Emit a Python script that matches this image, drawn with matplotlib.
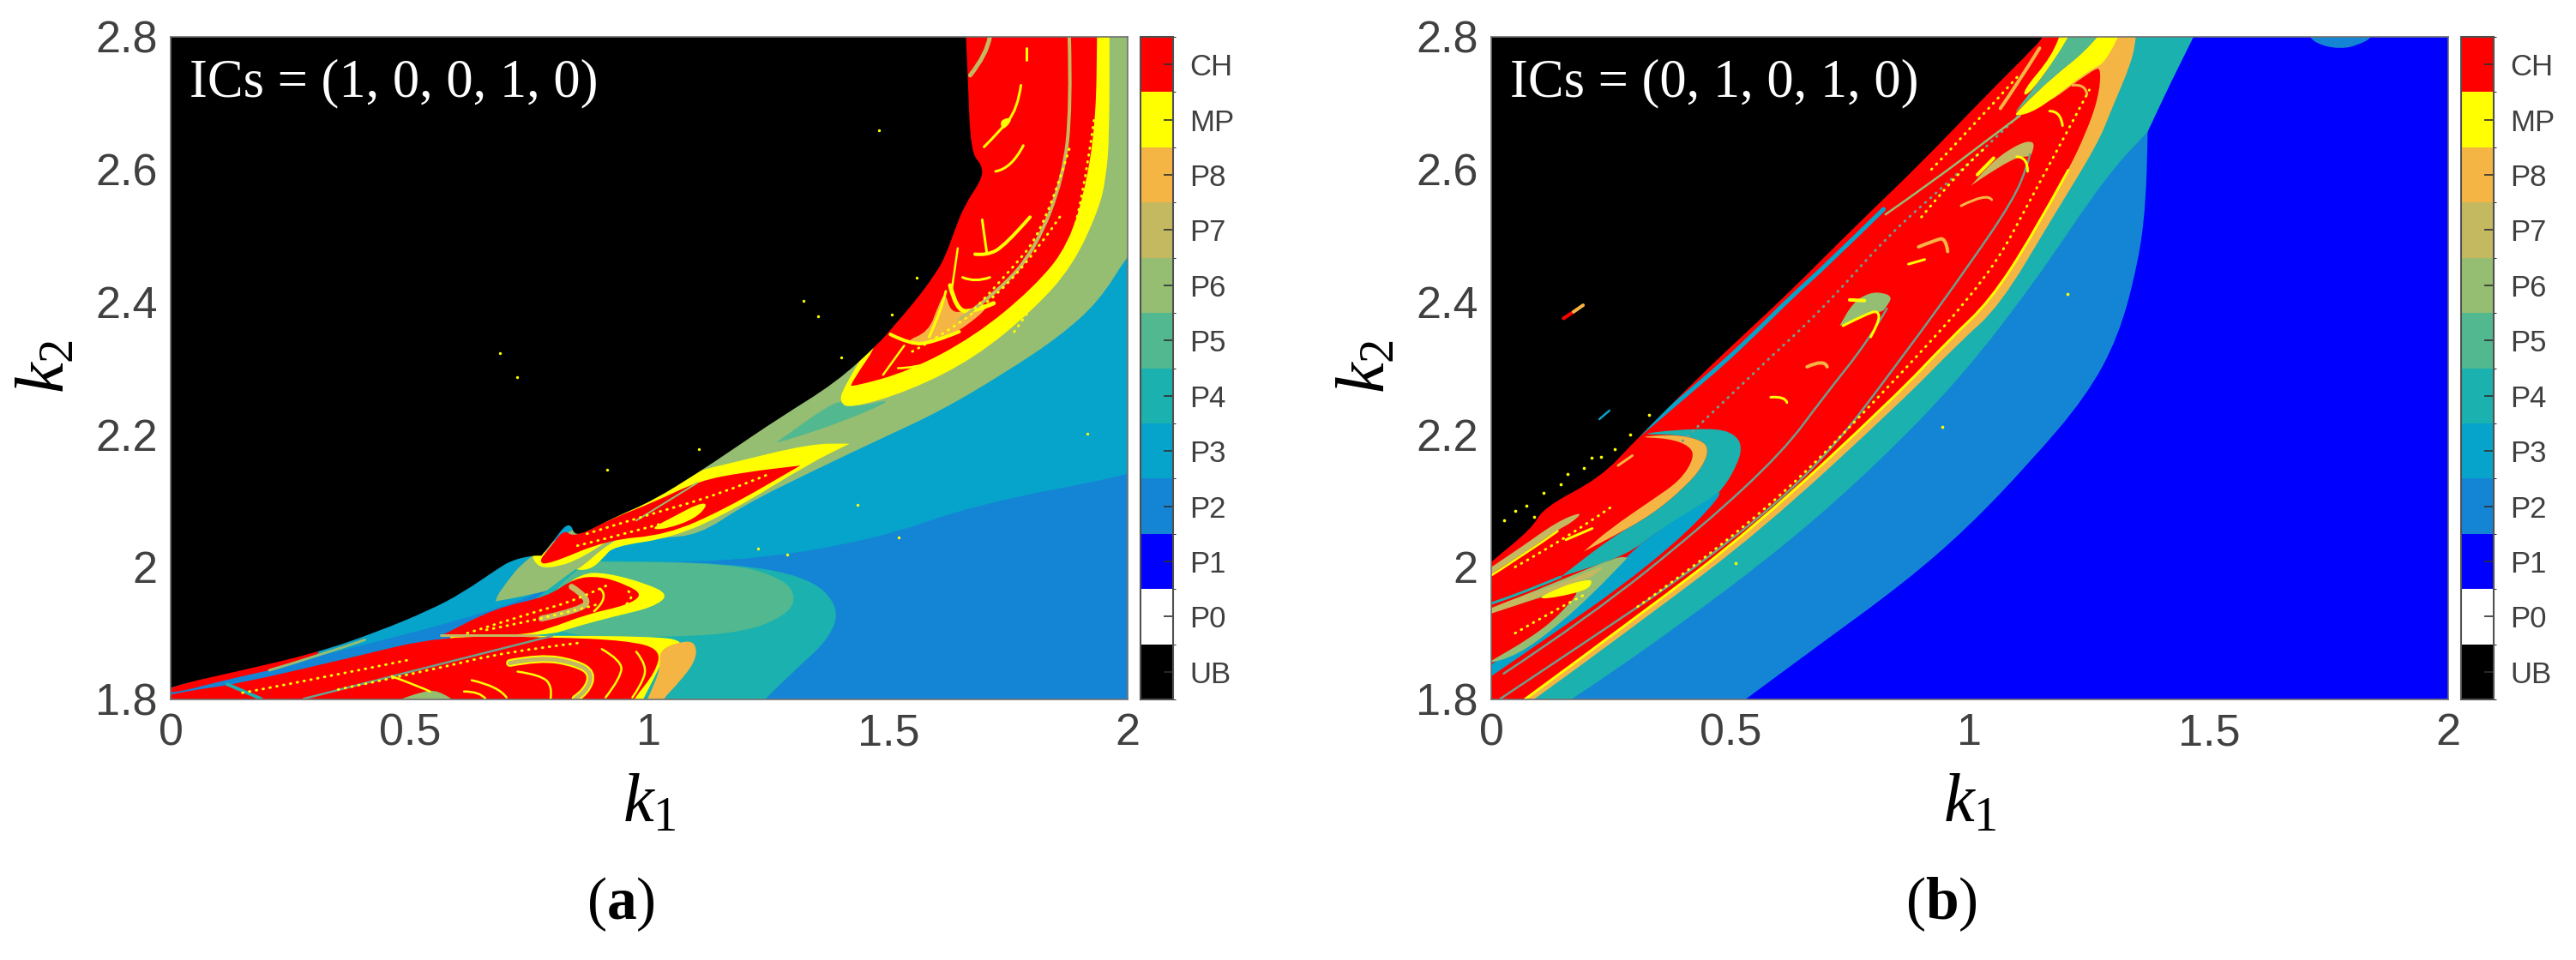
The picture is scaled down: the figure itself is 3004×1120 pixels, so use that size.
import matplotlib
matplotlib.use('Agg')
from matplotlib import pyplot as plt
from matplotlib.cm import ScalarMappable
from matplotlib.colors import BoundaryNorm, ListedColormap
from matplotlib.patches import PathPatch
from matplotlib.path import Path

plt.rcParams['font.family'] = ['Liberation Sans', 'DejaVu Sans']
plt.rcParams['mathtext.fontset'] = 'custom'
plt.rcParams['mathtext.rm'] = 'Liberation Serif'
plt.rcParams['mathtext.it'] = 'Liberation Serif:italic'
plt.rcParams['mathtext.bf'] = 'Liberation Serif:bold'

state_labels = ['UB', 'P0', 'P1', 'P2', 'P3', 'P4', 'P5', 'P6', 'P7', 'P8', 'MP', 'CH']
state_colors = ['#000000', '#ffffff', '#0000ff', '#1485d4', '#06a3cb', '#1ab1af',
                '#52b88f', '#95be72', '#c4b860', '#f5b544', '#ffff00', '#ff0000']
c = dict(zip(state_labels, state_colors))
TRACE = '#6f9f8c'

k1_ticks = [0, 0.5, 1, 1.5, 2]
k1_ticklabels = ['0', '0.5', '1', '1.5', '2']
k2_ticks = [1.8, 2, 2.2, 2.4, 2.6, 2.8]
k2_ticklabels = ['1.8', '2', '2.2', '2.4', '2.6', '2.8']

# region outlines, as (k1, k2). A doubled point keeps a sharp corner
a_p3 = [(2.05, 2.155), (2.05, 2.155), (2, 2.138), (1.68, 2.094), (1.474, 2.041), (1.172, 2.006),
        (.871, 2.010), (.843, 1.985), (.651, 1.925), (0, 1.812), (-.05, 1.80), (-.05, 1.80),
        (-.05, 2.82), (-.05, 2.82), (2.05, 2.82), (2.05, 2.82)]
a_p6 = [(2.05, 2.82), (2.05, 2.82), (2.05, 2.515), (2.05, 2.515), (2, 2.470), (1.940, 2.401),
        (1.858, 2.348), (1.748, 2.295), (1.611, 2.236), (1.474, 2.190), (1.337, 2.143), (1.200, 2.094),
        (1.104, 2.048), (1.021, 2.044), (.925, 2.031), (.898, 2.011), (.857, 1.982), (.816, 1.969),
        (.733, 1.955), (.679, 1.948), (.679, 1.948), (.685, 1.961), (.747, 2.018), (.925, 2.090),
        (1.337, 2.289), (1.662, 2.80), (1.66, 2.82), (1.66, 2.82)]
a_p4 = [(.871, 2.010), (.871, 2.010), (1.172, 2.006), (1.337, 1.984), (1.398, 1.939), (1.378, 1.893),
        (1.309, 1.847), (1.241, 1.800), (1.227, 1.787), (1.227, 1.787), (.651, 1.787), (.651, 1.787),
        (.651, 1.892)]
a_p5 = [(.871, 2.008), (.871, 2.008), (1.172, 2.006), (1.282, 1.982), (1.309, 1.952), (1.282, 1.925),
        (1.200, 1.902), (1.063, 1.894), (.788, 1.894), (.788, 1.958)]
a_yellow_upper = [(.857, 1.991), (.912, 1.991), (.994, 1.975), (1.042, 1.958), (1.008, 1.939),
                  (.925, 1.925), (.843, 1.909), (.788, 1.896), (.583, 1.896), (.788, 1.951)]
a_red_upper = [(.843, 1.983), (.898, 1.986), (.953, 1.973), (.987, 1.958), (.953, 1.942), (.871, 1.929),
               (.788, 1.906), (.733, 1.897), (.565, 1.896), (.565, 1.896), (.679, 1.938), (.788, 1.955)]
a_yellow_lower = [(.583, 1.896), (.583, 1.896), (1.021, 1.896), (1.076, 1.886), (1.035, 1.873),
                  (1.021, 1.847), (.987, 1.800), (.980, 1.787), (.980, 1.787), (.651, 1.787), (.651, 1.787)]
a_p8_lower = [(1.021, 1.876), (1.076, 1.889), (1.098, 1.884), (1.098, 1.859), (1.063, 1.826),
              (1.028, 1.800), (1.021, 1.787), (1.021, 1.787), (.987, 1.787), (.987, 1.787),
              (1.001, 1.807), (1.024, 1.847)]
a_red_lower = [(-.02, 1.804), (-.02, 1.804), (.045, 1.814), (.137, 1.823), (.377, 1.863), (.565, 1.896),
               (.798, 1.894), (.953, 1.889), (1.024, 1.876), (1.014, 1.842), (.967, 1.800), (.960, 1.787),
               (.960, 1.787), (-.02, 1.787), (-.02, 1.787)]
a_red_sliver = [(-.02, 1.815), (.144, 1.846), (.310, 1.875), (.310, 1.868), (.245, 1.850), (.206, 1.844),
                (.118, 1.830), (0, 1.808)]
a_p6_bottom = [(.46, 1.795), (.46, 1.795), (.53, 1.813), (.56, 1.813), (.60, 1.795), (.60, 1.795)]
a_yellow_mid = [(.751, 2.018), (.775, 1.995), (.843, 2.008), (.843, 1.995), (.878, 1.996), (.905, 2.014),
                (.925, 2.031), (1.049, 2.044), (1.172, 2.084), (1.337, 2.157), (1.419, 2.186),
                (1.419, 2.186), (1.337, 2.186), (1.172, 2.157), (1.090, 2.143), (1.008, 2.107),
                (.912, 2.071), (.843, 2.048), (.775, 2.018)]
a_p6_stripe = [(.775, 1.994), (.843, 2.007), (.925, 2.044), (1.008, 2.084), (1.021, 2.077), (.912, 2.034),
               (.860, 2.000), (.843, 1.995)]
a_red_mid = [(.768, 2.008), (.788, 2.003), (.912, 2.041), (1.035, 2.048), (1.158, 2.087), (1.316, 2.153),
             (1.316, 2.153), (1.200, 2.143), (1.104, 2.130), (1.008, 2.097), (.925, 2.074), (.843, 2.044),
             (.822, 2.057), (.795, 2.031)]
a_yellow_oval = [(1.001, 2.057), (1.049, 2.075), (1.104, 2.096), (1.124, 2.095), (1.097, 2.073), (1.035, 2.057)]
a_yellow_top = [(1.474, 2.352), (1.405, 2.269), (1.398, 2.249), (1.419, 2.239), (1.542, 2.265), (1.680, 2.315),
                (1.803, 2.388), (1.885, 2.454), (1.940, 2.540), (1.955, 2.588), (1.962, 2.652), (1.962, 2.80),
                (1.962, 2.82), (1.962, 2.82), (1.5, 2.82), (1.5, 2.82)]
a_red_top = [(1.50, 2.36), (1.419, 2.275), (1.426, 2.272), (1.542, 2.295), (1.680, 2.348), (1.803, 2.421),
             (1.878, 2.487), (1.917, 2.588), (1.934, 2.685), (1.936, 2.80), (1.936, 2.82), (1.936, 2.82),
             (1.5, 2.82), (1.5, 2.82)]
a_p5_wedge = [(1.266, 2.188), (1.266, 2.188), (1.398, 2.256), (1.419, 2.239), (1.522, 2.256), (1.405, 2.219),
              (1.282, 2.190)]
a_p8_wedge = [(1.619, 2.416), (1.629, 2.386), (1.655, 2.384), (1.720, 2.398), (1.648, 2.355), (1.585, 2.336),
              (1.533, 2.340), (1.584, 2.355), (1.604, 2.394)]
a_yellow_blob = [(1.732, 2.675), (1.763, 2.679), (1.739, 2.657)]
a_black = [(0, 1.820), (.144, 1.843), (.308, 1.871), (.432, 1.902), (.542, 1.935), (.610, 1.961), (.685, 1.998),
           (.713, 2.010), (.754, 2.017), (.775, 2.017), (.775, 2.017), (.802, 2.041), (.822, 2.061), (.837, 2.064),
           (.843, 2.049), (.864, 2.051), (.925, 2.074), (1.008, 2.100), (1.104, 2.143), (1.172, 2.176),
           (1.268, 2.223), (1.392, 2.279), (1.481, 2.338), (1.508, 2.361), (1.556, 2.401), (1.597, 2.441),
           (1.618, 2.467), (1.638, 2.507), (1.659, 2.546), (1.696, 2.586), (1.696, 2.606), (1.672, 2.626),
           (1.666, 2.738), (1.662, 2.80), (1.662, 2.82), (1.662, 2.82), (-.05, 2.82), (-.05, 2.82), (-.05, 1.80),
           (-.05, 1.80)]

# thin features of panel (a): (points, colour, width in px, dotted)
a_strokes = [
    ([(.118, 1.823), (.189, 1.801)], c['P4'], 4, False),
    ([(.206, 1.844), (.31, 1.866), (.406, 1.890)], c['P6'], 3, False),
    ([(.278, 1.801), (.462, 1.835), (.798, 1.896)], TRACE, 2.5, False),
    ([(.565, 1.897), (.765, 1.897)], c['P7'], 3, False),
    ([(.462, 1.835), (.525, 1.818), (.542, 1.812)], c['MP'], 2.5, False),
    ([(.838, 1.970), (.877, 1.952), (.857, 1.935), (.775, 1.922)], c['P7'], 7, False),
    ([(.709, 1.855), (.773, 1.864), (.846, 1.855), (.882, 1.840), (.869, 1.812), (.846, 1.801)], c['MP'], 9, False),
    ([(.709, 1.855), (.773, 1.864), (.846, 1.855), (.882, 1.840), (.869, 1.812), (.846, 1.801)], c['P7'], 5, False),
    ([(.725, 1.842), (.773, 1.837), (.798, 1.820), (.794, 1.801)], c['MP'], 2.5, False),
    ([(.629, 1.829), (.685, 1.820), (.702, 1.803)], c['MP'], 2.5, False),
    ([(.613, 1.812), (.646, 1.812), (.658, 1.801)], c['MP'], 2.5, False),
    ([(.901, 1.876), (.942, 1.859), (.942, 1.834), (.909, 1.803)], c['MP'], 2.5, False),
    ([(.973, 1.872), (.997, 1.851), (.982, 1.820), (.965, 1.803)], c['MP'], 2.5, False),
    ([(.898, 1.967), (.917, 1.954), (.885, 1.933)], c['MP'], 2.5, False),
    ([(.957, 1.963), (.973, 1.954), (.942, 1.937)], c['MP'], 3, True),
    ([(.973, 2.070), (1.101, 2.127)], c['P6'], 2, False),
    ([(1.504, 2.351), (1.546, 2.336), (1.590, 2.338), (1.648, 2.355)], c['MP'], 4, False),
    ([(1.585, 2.347), (1.610, 2.386), (1.620, 2.416)], c['MP'], 3, False),
    ([(1.629, 2.425), (1.642, 2.386), (1.681, 2.386), (1.720, 2.398)], c['MP'], 5, False),
    ([(1.878, 2.80), (1.882, 2.696), (1.866, 2.588), (1.808, 2.481), (1.732, 2.416), (1.648, 2.373)], c['P7'], 4, False),
    ([(1.712, 2.80), (1.706, 2.774), (1.671, 2.742)], c['P7'], 5, False),
    ([(1.777, 2.727), (1.770, 2.691), (1.732, 2.657), (1.700, 2.634)], c['MP'], 3, False),
    ([(1.681, 2.472), (1.706, 2.470), (1.744, 2.485), (1.796, 2.528)], c['MP'], 4, False),
    ([(1.696, 2.524), (1.706, 2.472)], c['MP'], 3, False),
    ([(1.724, 2.597), (1.757, 2.601), (1.782, 2.636)], c['MP'], 3, False),
    ([(1.655, 2.437), (1.681, 2.429), (1.712, 2.437)], c['MP'], 3, False),
    ([(1.645, 2.481), (1.633, 2.421)], c['MP'], 2.5, False),
    ([(1.489, 2.290), (1.533, 2.334)], c['MP'], 2.5, False),
    ([(1.520, 2.300), (1.585, 2.300), (1.681, 2.338)], c['MP'], 2.5, False),
    ([(1.681, 2.390), (1.744, 2.438), (1.828, 2.511), (1.878, 2.631)], c['MP'], 3, True),
    ([(1.763, 2.355), (1.866, 2.459), (1.904, 2.545), (1.930, 2.675)], c['MP'], 3, True),
    ([(1.788, 2.783), (1.788, 2.765)], c['MP'], 3, False),
    ([(.62, 1.90), (.75, 1.93), (.85, 1.95), (.92, 1.975)], c['MP'], 3, True),
    ([(.66, 1.905), (.80, 1.925), (.90, 1.945)], c['MP'], 3, True),
    ([(.85, 2.032), (.95, 2.05), (1.05, 2.07)], c['MP'], 3, True),
    ([(.87, 2.05), (.98, 2.075), (1.15, 2.11), (1.25, 2.14)], c['MP'], 3, True),
    ([(.15, 1.81), (.30, 1.83), (.50, 1.86)], c['MP'], 3, True),
    ([(.35, 1.815), (.55, 1.845), (.70, 1.872), (.85, 1.885)], c['MP'], 3, True),
    ([(1.55, 2.325), (1.65, 2.365), (1.78, 2.445), (1.86, 2.53)], c['MP'], 3, True),
]
a_specks_k1 = [1.402, 1.323, 1.353, .688, .724, 1.481, 1.915, 1.435, 1.522, 1.227, 1.289, .912, 1.104, 1.56, 1.508]
a_specks_k2 = [2.316, 2.402, 2.378, 2.323, 2.287, 2.659, 2.201, 2.094, 2.044, 2.028, 2.018, 2.147, 2.178, 2.437, 2.381]

# region outlines
b_p2 = [(1.372, 2.657), (1.372, 2.657), (1.368, 2.546), (1.352, 2.459), (1.311, 2.347), (1.242, 2.256), (1.126, 2.158),
        (.994, 2.058), (.861, 1.975), (.683, 1.881), (.531, 1.800), (.507, 1.787), (.507, 1.787), (-.05, 1.787),
        (-.05, 1.787), (-.05, 2.82), (-.05, 2.82), (1.372, 2.82), (1.372, 2.82)]
b_p2_top = [(1.707, 2.80), (1.734, 2.787), (1.775, 2.782), (1.81, 2.787), (1.844, 2.80), (1.844, 2.82), (1.844, 2.82),
            (1.707, 2.82), (1.707, 2.82)]
b_p4 = [(1.468, 2.80), (1.42, 2.731), (1.372, 2.657), (1.372, 2.657), (1.283, 2.588), (1.139, 2.433), (.982, 2.286),
        (.810, 2.158), (.622, 2.037), (.384, 1.907), (.169, 1.800), (.137, 1.787), (.137, 1.787), (-.05, 1.787),
        (-.05, 1.787), (-.05, 2.82), (-.05, 2.82), (1.48, 2.82), (1.48, 2.82)]
b_p8 = [(1.348, 2.80), (1.338, 2.761), (1.297, 2.692), (1.268, 2.639), (1.172, 2.526), (1.063, 2.394), (.977, 2.338),
        (.861, 2.252), (.563, 2.054), (.324, 1.924), (.090, 1.800), (.062, 1.787), (.062, 1.787), (-.05, 1.787),
        (-.05, 1.787), (-.05, 2.82), (-.05, 2.82), (1.348, 2.82), (1.348, 2.82)]
b_red = [(.070, 1.800), (.306, 1.925), (.548, 2.058), (.843, 2.256), (.960, 2.345), (1.042, 2.401), (1.131, 2.500),
         (1.206, 2.599), (1.241, 2.652), (1.268, 2.705), (1.275, 2.751), (1.261, 2.753), (1.131, 2.682), (1.172, 2.771),
         (1.197, 2.80), (1.197, 2.82), (1.197, 2.82), (-.05, 2.82), (-.05, 2.82), (-.05, 1.787), (-.05, 1.787),
         (.05, 1.787), (.05, 1.787)]
b_yellow_wedge = [(1.29, 2.82), (1.29, 2.82), (1.324, 2.82), (1.324, 2.82), (1.283, 2.761), (1.256, 2.752), (1.208, 2.727),
                  (1.139, 2.688), (1.091, 2.679), (1.105, 2.692), (1.174, 2.739), (1.242, 2.778)]
b_p5_wedge = [(1.222, 2.82), (1.222, 2.82), (1.29, 2.82), (1.29, 2.82), (1.242, 2.778), (1.174, 2.739), (1.105, 2.692),
              (1.091, 2.683), (1.119, 2.709), (1.174, 2.761)]
b_yellow_thin = [(1.197, 2.82), (1.197, 2.82), (1.222, 2.82), (1.222, 2.82), (1.174, 2.761), (1.119, 2.709), (1.11, 2.718),
                 (1.172, 2.771)]
b_p4_lobe = [(.306, 2.200), (.384, 2.207), (.473, 2.209), (.509, 2.200), (.524, 2.183), (.516, 2.157), (.485, 2.118),
             (.443, 2.090), (.354, 2.058), (.283, 2.017), (.145, 1.985), (.145, 1.985), (.252, 2.045), (.336, 2.079),
             (.407, 2.122), (.443, 2.153), (.455, 2.179), (.437, 2.192), (.384, 2.200)]
b_p3_lobe = [(.485, 2.118), (.462, 2.092), (.384, 2.036), (.265, 1.967), (.145, 1.907), (-.02, 1.825), (-.02, 1.825),
             (-.02, 1.842), (-.02, 1.842), (.145, 1.929), (.217, 1.963), (.283, 2.017), (.354, 2.058), (.443, 2.096)]
b_p6_wedge = [(.285, 2.014), (.285, 2.014), (.265, 2.016), (.145, 1.980), (.05, 1.952), (-.02, 1.932), (-.02, 1.932),
              (-.02, 1.852), (-.02, 1.852), (.055, 1.866), (.145, 1.915), (.217, 1.963)]
b_red_lobe = [(.196, 1.974), (.145, 1.929), (.085, 1.894), (-.02, 1.85), (-.02, 1.85), (-.02, 1.925), (-.02, 1.925), (.085, 1.950)]
b_p7_lobe = [(.247, 2.006), (.145, 1.975), (.055, 1.954), (-.02, 1.932), (-.02, 1.932), (-.02, 1.925), (-.02, 1.925),
             (.085, 1.950), (.169, 1.975), (.205, 1.982)]
b_yellow_lobe = [(.214, 1.980), (.199, 1.963), (.085, 1.948), (.145, 1.970), (.193, 1.980)]
b_p8_crescent = [(.300, 2.196), (.384, 2.200), (.437, 2.192), (.455, 2.179), (.443, 2.153), (.407, 2.122), (.336, 2.079),
                 (.252, 2.045), (.193, 2.023), (.193, 2.023), (.247, 2.057), (.336, 2.101), (.396, 2.131), (.425, 2.166),
                 (.414, 2.183), (.371, 2.194)]
b_p7_upper = [(.193, 2.084), (.139, 2.069), (.067, 2.032), (-.02, 1.99), (-.02, 1.99), (-.02, 1.98), (-.02, 1.98),
              (.073, 2.023), (.139, 2.056), (.169, 2.067)]
b_p6_wedge1 = [(.838, 2.407), (.820, 2.414), (.790, 2.414), (.756, 2.399), (.728, 2.364), (.728, 2.364), (.762, 2.373),
               (.793, 2.386), (.817, 2.384), (.827, 2.394)]
b_p7_wedge2 = [(1.135, 2.643), (1.105, 2.640), (1.050, 2.614), (1.002, 2.575), (1.002, 2.575), (1.036, 2.592),
               (1.098, 2.619), (1.126, 2.619), (1.132, 2.627)]
b_black = [(0, 2.008), (.085, 2.058), (.110, 2.090), (.229, 2.135), (.300, 2.190), (.443, 2.293), (.533, 2.354),
           (.625, 2.416), (.762, 2.515), (.899, 2.610), (1.036, 2.713), (1.139, 2.787), (1.153, 2.80),
           (1.167, 2.82), (1.167, 2.82), (-.05, 2.82), (-.05, 2.82), (-.05, 1.975), (-.05, 1.975)]

b_strokes = [
    ([(.070, 1.800), (.306, 1.925), (.548, 2.058), (.843, 2.256), (.960, 2.345), (1.042, 2.401), (1.131, 2.500), (1.206, 2.599)], c['MP'], 3, False),
    ([(.26, 2.17), (.45, 2.285), (.54, 2.345), (.63, 2.41), (.70, 2.455), (.82, 2.54)], c['P3'], 5, False),
    ([(1.146, 2.783), (1.098, 2.727), (1.064, 2.692)], c['P8'], 4, False),
    ([(-.02, 1.94), (.05, 1.956), (.145, 1.985)], c['P4'], 3, False),
    ([(-.02, 1.978), (.073, 2.02), (.139, 2.054)], c['MP'], 2.5, False),
    ([(.026, 1.839), (.204, 1.924), (.443, 2.062), (.610, 2.174), (.694, 2.256), (.790, 2.343), (.827, 2.390)], TRACE, 2.5, False),
    ([(.019, 1.801), (.204, 1.890), (.443, 2.006), (.683, 2.149), (.865, 2.322), (1.002, 2.459), (1.091, 2.554), (1.121, 2.606), (1.126, 2.623)], TRACE, 2.5, False),
    ([(.40, 2.19), (.557, 2.299), (.694, 2.390), (.831, 2.502), (.968, 2.588), (1.105, 2.683)], TRACE, 3, True),
    ([(.824, 2.532), (.927, 2.584), (1.036, 2.644), (1.105, 2.681)], c['P6'], 2.5, False),
    ([(.899, 2.528), (.982, 2.601), (1.03, 2.631)], c['MP'], 3, True),
    ([(.306, 1.94), (.548, 2.063), (.843, 2.28), (1.042, 2.44), (1.131, 2.56), (1.206, 2.66), (1.25, 2.72)], c['MP'], 3, True),
    ([(.05, 1.90), (.12, 1.93), (.20, 1.96)], c['MP'], 3, True),
    ([(.05, 2.0), (.15, 2.04), (.25, 2.09)], c['MP'], 3, True),
    ([(.92, 2.60), (1.0, 2.66), (1.10, 2.74)], c['MP'], 3, True),
    ([(.749, 2.403), (.78, 2.402)], c['MP'], 4, False),
    ([(.735, 2.364), (.790, 2.384), (.810, 2.386), (.810, 2.369), (.793, 2.347)], c['MP'], 3, False),
    ([(1.016, 2.592), (1.05, 2.617)], c['MP'], 4, False),
    ([(1.098, 2.619), (1.121, 2.619), (1.121, 2.597)], c['MP'], 3, False),
    ([(.893, 2.483), (.927, 2.493), (.950, 2.497), (.954, 2.476)], c['P8'], 4, False),
    ([(.872, 2.457), (.906, 2.464)], c['MP'], 3, False),
    ([(.660, 2.302), (.696, 2.314), (.702, 2.302)], c['P8'], 4, False),
    ([(.584, 2.256), (.614, 2.258), (.618, 2.248)], c['MP'], 3, False),
    ([(1.167, 2.688), (1.190, 2.688), (1.194, 2.666)], c['MP'], 3, False),
    ([(1.215, 2.727), (1.242, 2.729), (1.245, 2.713)], c['P8'], 3, False),
    ([(.982, 2.545), (1.036, 2.565), (1.046, 2.554)], c['P8'], 3, False),
    ([(.156, 2.041), (.211, 2.058)], c['MP'], 3, False),
    ([(.265, 2.153), (.295, 2.168)], c['P8'], 3, False),
    ([(.151, 2.375), (.172, 2.385)], c['CH'], 4, False),
    ([(.172, 2.385), (.192, 2.395)], c['P8'], 4, False),
    ([(.226, 2.223), (.247, 2.236)], c['P3'], 2.5, False),
]
b_specks_k1 = [1.204, .943, .51, .026, .05, .073, .11, .145, .193, .229, .258, .09, .16, .21, .29, .33]
b_specks_k2 = [2.412, 2.212, 2.006, 2.071, 2.084, 2.092, 2.112, 2.125, 2.149, 2.166, 2.178, 2.075, 2.14, 2.165, 2.20, 2.23]


def smooth_path(points, closed):
    verts = []
    codes = []
    n = len(points)
    mid = lambda p, q: ((p[0] + q[0]) / 2, (p[1] + q[1]) / 2)
    if closed:
        verts.append(mid(points[-1], points[0]))
        codes.append(Path.MOVETO)
        for i in range(n):
            verts += [points[i], mid(points[i], points[(i + 1) % n])]
            codes += [Path.CURVE3, Path.CURVE3]
    else:
        verts.append(points[0])
        codes.append(Path.MOVETO)
        for i in range(1, n - 1):
            end = points[i + 1] if i == n - 2 else mid(points[i], points[i + 1])
            verts += [points[i], end]
            codes += [Path.CURVE3, Path.CURVE3]
        if n == 2:
            verts.append(points[1])
            codes.append(Path.LINETO)
    return Path(verts, codes)


def region(ax, points, color):
    ax.add_patch(PathPatch(smooth_path(points, True), facecolor=color, edgecolor='none', lw=0, zorder=1))


def stroke(ax, points, color, width, dotted=False):
    style = (0, (0.3, 2.4)) if dotted else '-'
    ax.add_patch(PathPatch(smooth_path(points, False), facecolor='none', edgecolor=color,
                           lw=width * 0.72, linestyle=style, capstyle='round', zorder=1))


def setup_axes(fig, left, cbar_left, annotation, tag, tag_x):
    ax = fig.add_axes([left / 3004, 1 - 816 / 1120, 1116 / 3004, 773 / 1120])
    ax.set_xlim(0, 2)
    ax.set_ylim(1.8, 2.8)
    ax.set_xticks(k1_ticks, k1_ticklabels)
    ax.set_yticks(k2_ticks, k2_ticklabels)
    ax.tick_params(length=0, labelsize=37.5, labelcolor='#404040', pad=11)
    for spine in ax.spines.values():
        spine.set_color('#707070')
        spine.set_linewidth(1.2)
        spine.set_zorder(5)
    ax.text(0.020, 0.9107, annotation, transform=ax.transAxes, color='white', fontsize=45,
            family='Liberation Serif', va='baseline', ha='left', zorder=6)

    cax = fig.add_axes([cbar_left / 3004, 1 - 816 / 1120, 38 / 3004, 773 / 1120])
    cmap = ListedColormap(state_colors)
    norm = BoundaryNorm(range(len(state_colors) + 1), cmap.N)
    cbar = fig.colorbar(ScalarMappable(norm=norm, cmap=cmap), cax=cax)
    cbar.set_ticks([i + 0.5 for i in range(len(state_labels))], labels=state_labels)
    cbar.ax.tick_params(direction='in', length=8, width=1.2, color='#303030', labelsize=25,
                        labelcolor='#404040', pad=14)
    cbar.outline.set_edgecolor('#505050')
    cbar.outline.set_linewidth(1.5)

    fig.text((left + 558) / 3004, 1 - 938 / 1120, r'$k_1$', fontsize=58, ha='center', va='center', color='black')
    fig.text((left - 145) / 3004, 1 - 428 / 1120, r'$k_2$', fontsize=58, ha='center', va='center', rotation=90, color='black')
    fig.text(tag_x / 3004, 1 - 1055 / 1120, r'$(\mathbf{' + tag + '})$', fontsize=50, ha='center', va='center', color='black')
    return ax


def plot_panel_a(ax):
    ax.set_facecolor(c['P2'])
    region(ax, a_p3, c['P3'])
    region(ax, a_p6, c['P6'])
    region(ax, a_p4, c['P4'])
    region(ax, a_p5, c['P5'])
    region(ax, a_yellow_lower, c['MP'])
    region(ax, a_p8_lower, c['P8'])
    region(ax, a_yellow_upper, c['MP'])
    region(ax, a_red_upper, c['CH'])
    region(ax, a_red_lower, c['CH'])
    region(ax, a_red_sliver, c['CH'])
    region(ax, a_p6_bottom, c['P6'])
    region(ax, a_yellow_mid, c['MP'])
    region(ax, a_p6_stripe, c['P6'])
    region(ax, a_red_mid, c['CH'])
    region(ax, a_yellow_oval, c['MP'])
    region(ax, a_p5_wedge, c['P5'])
    region(ax, a_yellow_top, c['MP'])
    region(ax, a_red_top, c['CH'])
    region(ax, a_p8_wedge, c['P8'])
    region(ax, a_yellow_blob, c['MP'])
    for points, color, width, dotted in a_strokes:
        stroke(ax, points, color, width, dotted)
    region(ax, a_black, c['UB'])
    ax.scatter(a_specks_k1, a_specks_k2, s=6, color=c['MP'], linewidths=0, zorder=2)


def plot_panel_b(ax):
    ax.set_facecolor(c['P1'])
    region(ax, b_p2, c['P2'])
    region(ax, b_p2_top, c['P2'])
    region(ax, b_p4, c['P4'])
    region(ax, b_p8, c['P8'])
    region(ax, b_red, c['CH'])
    region(ax, b_yellow_thin, c['MP'])
    region(ax, b_p5_wedge, c['P5'])
    region(ax, b_yellow_wedge, c['MP'])
    region(ax, b_p4_lobe, c['P4'])
    region(ax, b_p3_lobe, c['P3'])
    region(ax, b_p6_wedge, c['P6'])
    region(ax, b_red_lobe, c['CH'])
    region(ax, b_p7_lobe, c['P7'])
    region(ax, b_yellow_lobe, c['MP'])
    region(ax, b_p8_crescent, c['P8'])
    region(ax, b_p7_upper, c['P7'])
    region(ax, b_p6_wedge1, c['P6'])
    region(ax, b_p7_wedge2, c['P7'])
    for points, color, width, dotted in b_strokes[:-3]:
        stroke(ax, points, color, width, dotted)
    region(ax, b_black, c['UB'])
    for points, color, width, dotted in b_strokes[-3:]:
        stroke(ax, points, color, width, dotted)
    ax.scatter(b_specks_k1, b_specks_k2, s=7, color=c['MP'], linewidths=0, zorder=2)


if __name__ == '__main__':
    fig = plt.figure(figsize=(30.04, 11.2), dpi=100)
    ax_a = setup_axes(fig, 199, 1330, 'ICs = (1, 0, 0, 1, 0)', 'a', 724)
    plot_panel_a(ax_a)
    ax_b = setup_axes(fig, 1739, 2870, 'ICs = (0, 1, 0, 1, 0)', 'b', 2264)
    plot_panel_b(ax_b)
    fig.savefig('out.png', dpi=100)
